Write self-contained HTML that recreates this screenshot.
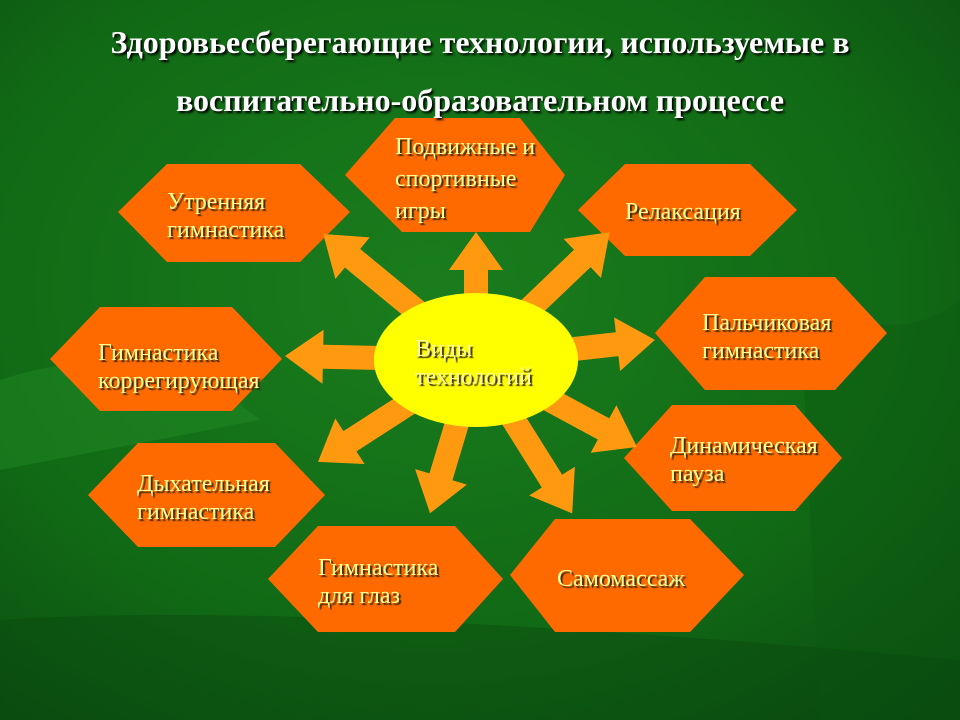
<!DOCTYPE html>
<html><head><meta charset="utf-8"><style>
body{margin:0;width:960px;height:720px;overflow:hidden;position:relative;font-family:"Liberation Serif","Noto Serif CJK SC",serif;}
svg{position:absolute;left:0;top:0}
.t{position:absolute;color:#ffff99;font-size:24px;line-height:28px;text-shadow:2px 2px 1px #3a2a00;white-space:nowrap}
.h{position:absolute;left:0;width:960px;text-align:center;color:#fff;font-weight:bold;font-size:32px;line-height:36px;text-shadow:2px 2px 2px #000}
</style></head><body>
<svg width="960" height="720">
<defs>
<radialGradient id="bg" cx="0.45" cy="0.4" r="0.8">
<stop offset="0" stop-color="#1a7d1d"/><stop offset="0.6" stop-color="#116a15"/><stop offset="1" stop-color="#0a4a10"/>
</radialGradient>
</defs>
<rect width="960" height="720" fill="url(#bg)"/>
<path d="M0,380 Q150,330 260,420 L0,470Z" fill="#2a9a30" opacity="0.3"/>
<path d="M800,300 Q900,350 960,300 L960,720 L820,720Z" fill="#0c5a12" opacity="0.4"/>
<path d="M0,620 Q300,600 960,660 L960,720 L0,720Z" fill="#0a4510" opacity="0.4"/>
<g fill="#ff6a00">
<polygon points="118,212 167,164 300,164 350,212 300,262 167,262"/>
<polygon points="345,175 395,118 520,118 565,175 530,232 402,232"/>
<polygon points="578,210 625,164 750,164 797,210 750,256 625,256"/>
<polygon points="655,333 705,277 835,277 887,333 835,390 705,390"/>
<polygon points="50,359 100,307 232,307 282,359 232,411 100,411"/>
<polygon points="624,458 672,405 795,405 842,458 795,511 672,511"/>
<polygon points="88,495 138,443 275,443 325,495 275,547 138,547"/>
<polygon points="268,579 318,526 455,526 503,579 455,632 318,632"/>
<polygon points="510,575 555,519 690,519 744,575 690,632 555,632"/>
</g>
<g fill="#ff9a10">
<polygon transform="translate(476,360) rotate(-140.5)" points="0,-12 160,-12 160,-27 198,0 160,27 160,12 0,12"/>
<polygon transform="translate(476,360) rotate(-90)" points="0,-12 90,-12 90,-27 128,0 90,27 90,12 0,12"/>
<polygon transform="translate(476,360) rotate(-43.7)" points="0,-12 147,-12 147,-27 185,0 147,27 147,12 0,12"/>
<polygon transform="translate(476,360) rotate(-6.4)" points="0,-12 142,-12 142,-27 180,0 142,27 142,12 0,12"/>
<polygon transform="translate(476,360) rotate(181.2)" points="0,-12 153,-12 153,-27 191,0 153,27 153,12 0,12"/>
<polygon transform="translate(476,360) rotate(28.4)" points="0,-12 145,-12 145,-27 183,0 145,27 145,12 0,12"/>
<polygon transform="translate(476,360) rotate(147.2)" points="0,-12 150,-12 150,-27 188,0 150,27 150,12 0,12"/>
<polygon transform="translate(476,360) rotate(106.7)" points="0,-12 122,-12 122,-27 160,0 122,27 122,12 0,12"/>
<polygon transform="translate(476,360) rotate(57.9)" points="0,-12 143,-12 143,-27 181,0 143,27 143,12 0,12"/>
</g>
<ellipse cx="476" cy="360" rx="102" ry="67" fill="#ffff00"/>
</svg>
<div class="h" style="top:24px">Здоровьесберегающие технологии, используемые в</div>
<div class="h" style="top:82px">воспитательно-образовательном процессе</div>
<div class="t" style="left:167px;top:188px">Утренняя<br>гимнастика</div>
<div class="t" style="left:395px;top:131px;line-height:32px">Подвижные и<br>спортивные<br>игры</div>
<div class="t" style="left:625px;top:198px">Релаксация</div>
<div class="t" style="left:702px;top:309px">Пальчиковая<br>гимнастика</div>
<div class="t" style="left:98px;top:339px">Гимнастика<br>коррегирующая</div>
<div class="t" style="left:415px;top:335px">Виды<br>технологий</div>
<div class="t" style="left:670px;top:432px">Динамическая<br>пауза</div>
<div class="t" style="left:137px;top:470px">Дыхательная<br>гимнастика</div>
<div class="t" style="left:318px;top:554px">Гимнастика<br>для глаз</div>
<div class="t" style="left:557px;top:565px">Самомассаж</div>
</body></html>
